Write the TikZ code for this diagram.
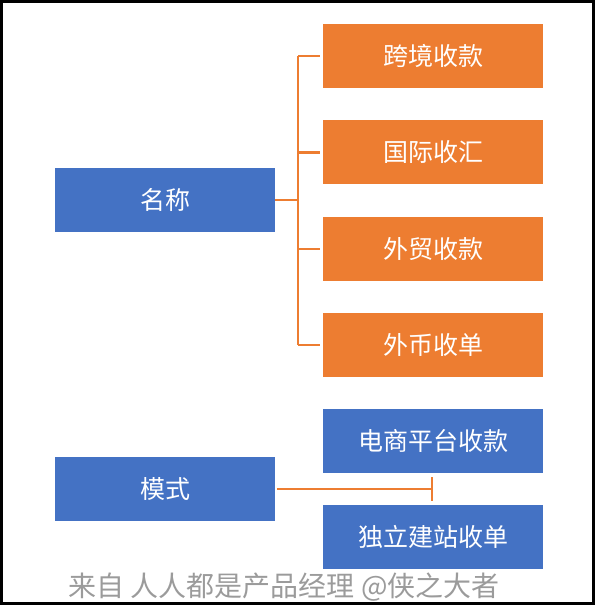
\documentclass[tikz,border=0pt]{standalone}
\usepackage{fontspec}
\setmainfont{Noto Sans CJK SC}
\usepackage{tikz}
\usetikzlibrary{positioning, calc}
\definecolor{MindBlue}{RGB}{68, 114, 196}
\definecolor{MindOrange}{RGB}{237, 125, 49}
\definecolor{MarkGray}{RGB}{155, 155, 155}

\begin{document}
\begin{tikzpicture}[
    x=1pt, y=-1pt,
    node distance=32pt,
    root/.style={rectangle, draw=none, fill=MindBlue, text=white,
                 minimum width=220pt, minimum height=64pt, font=\fontsize{25}{28}\selectfont},
    leaf/.style={rectangle, draw=none, fill=MindOrange, text=white,
                 minimum width=220pt, minimum height=64pt, font=\fontsize{25}{28}\selectfont},
    modeleaf/.style={leaf, fill=MindBlue},
    link/.style={draw=MindOrange, line width=2.5pt}
]
\useasboundingbox (0,0) rectangle (595,605);
\draw[line width=3pt] (1.5,1.5) rectangle (593.5,603.5);

% Name
\node[root] (name) at (165,200) {名称};
\node[leaf] (kuajing) at (433,56) {跨境收款};
\node[leaf, below=of kuajing] (guoji) {国际收汇};
\node[leaf, below=of guoji] (waimao) {外贸收款};
\node[leaf, below=of waimao] (waibi) {外币收单};

% Mode
\node[root] (mode) at (165,489) {模式};
\node[modeleaf, below=31pt of waibi] (dianshang) {电商平台收款};
\node[modeleaf, below=of dianshang] (duli) {独立建站收单};

% Bracket
\coordinate (fork) at (298,200);
\draw[link] (name.east) -- (fork);
\draw[link] (fork |- kuajing) -- (fork |- waibi);
\foreach \n in {kuajing, guoji, waimao, waibi}
    \draw[link, shorten >=3pt] (fork |- \n) -- (\n.west);

% Mode link
\coordinate (stop) at (432,489);
\draw[link] ([xshift=2pt]mode.east) -- (stop);
\draw[link, line width=2pt] ($(stop)+(0,-12)$) -- ($(stop)+(0,12)$);

% Watermark
\node[text=MarkGray, font=\fontsize{28}{32}\selectfont, anchor=base] (mark) at (284,596) {来自\ 人人都是产品经理 @侠之大者};

\end{tikzpicture}
\end{document}
